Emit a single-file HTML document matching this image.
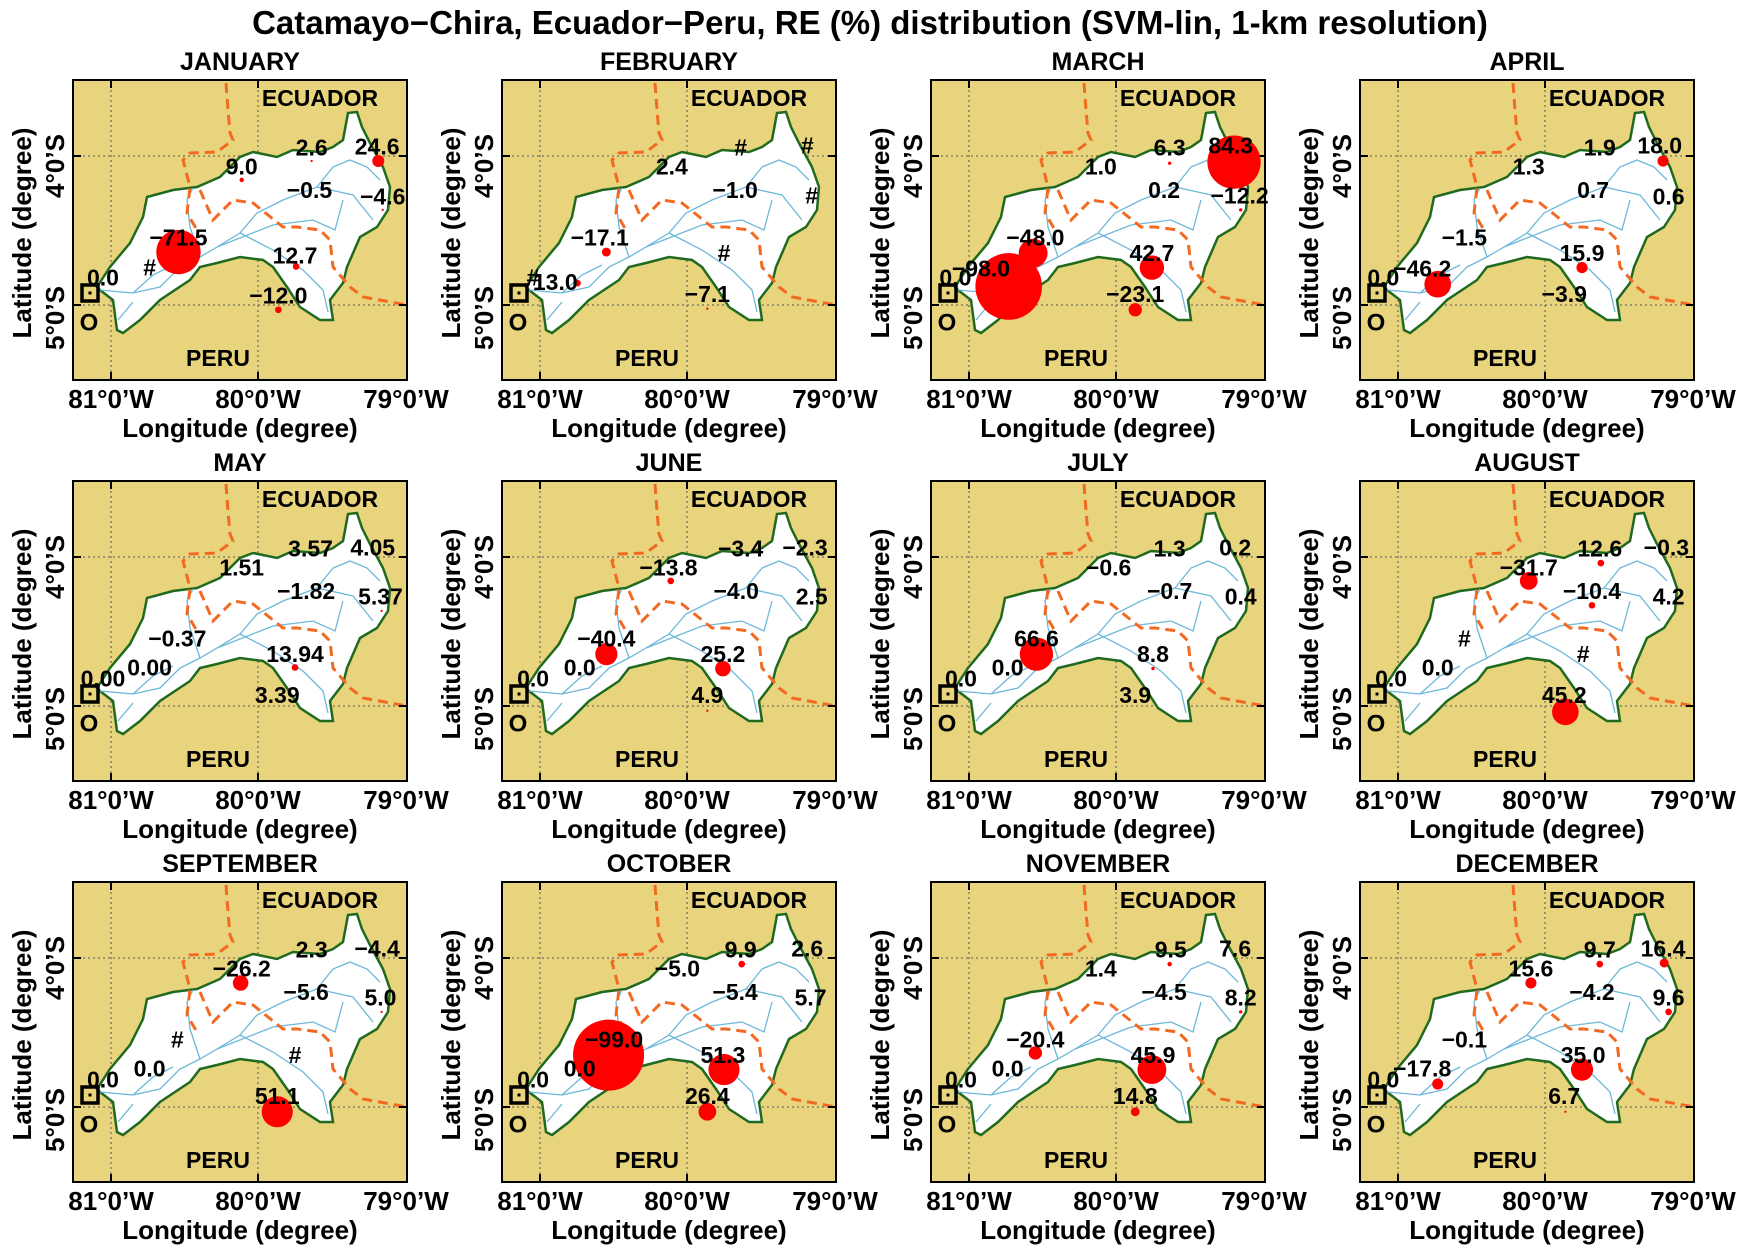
<!DOCTYPE html>
<html><head><meta charset="utf-8"><style>
body{margin:0;background:#fff;}
svg{display:block;font-family:"Liberation Sans",sans-serif;font-weight:bold;}
</style></head><body>
<svg id="s" width="1741" height="1250" xmlns="http://www.w3.org/2000/svg">
<text x="870" y="34" text-anchor="middle" font-size="33">Catamayo−Chira, Ecuador−Peru, RE (%) distribution (SVM-lin, 1-km resolution)</text>
</svg>
<script>
const S=1.11;
const basin=[[24,207],[37,187],[57,163],[70,137],[74,117],[100,110],[124,107],[147,97],[167,77],[180,72],[204,77],[220,70],[247,72],[260,67],[270,60],[275,33],[284,32],[289,47],[297,63],[310,87],[317,107],[315,130],[304,147],[287,157],[274,187],[270,203],[257,220],[260,240],[247,240],[227,227],[214,207],[200,187],[190,180],[167,177],[144,183],[127,187],[117,200],[87,220],[67,240],[50,253],[44,250],[40,220],[27,210]];
const rivers=[
[[27,210],[60,213],[87,207],[107,187],[127,177],[144,167],[167,153],[184,133],[210,120],[244,107],[260,87],[277,80],[294,87],[307,100]],
[[167,153],[200,170],[230,190],[250,210],[255,232]],
[[127,177],[117,147],[114,120],[120,108]],
[[144,167],[200,145],[240,140],[262,150],[270,120]],
[[60,213],[80,195],[100,185]],
[[244,107],[280,115],[300,140]],
[[45,240],[60,222]]];
const border1=[[153,3],[155,30],[157,53],[160,60],[144,72],[117,73],[110,80],[117,107],[114,133],[124,150]];
const border2=[[127,110],[140,140],[160,120],[180,123],[210,147],[224,147],[247,150],[257,160],[260,187],[277,207],[290,217],[334,225]];
const months=["JANUARY","FEBRUARY","MARCH","APRIL","MAY","JUNE","JULY","AUGUST","SEPTEMBER","OCTOBER","NOVEMBER","DECEMBER"];
const D=[
{L:[["−71.5",95,142],["24.6",274,60],["9.0",152,78],["2.6",215,61],["−0.5",213,99],["−4.6",279,105],["12.7",200,158],["−12.0",185,194],["0.0",27,178],["#",69,169]],
 C:[[95,155,20],[275,73,5.4],[152,90,2],[201,168,3],[185,207,3],[279,117,1],[215,73,1]]},
{L:[["#",215,61],["#",275,59],["2.4",153,78],["−1.0",210,99],["#",279,104],["−17.1",88,142],["#",200,156],["13.0",48,182],["#",28,178],["−7.1",185,193]],
 C:[[94,155,4],[68,183,3],[185,206,1]]},
{L:[["6.3",215,61],["84.3",270,59],["1.0",153,78],["0.2",210,99],["−12.2",278,104],["−48.0",94,142],["42.7",199,156],["0.0",22,178],["−98.0",45,170],["−23.1",184,193]],
 C:[[273,74,24],[279,117,1.5],[92,156,13],[199,169,11],[70,186,30],[184,207,6],[215,75,1.5]]},
{L:[["1.9",216,61],["18.0",270,59],["1.3",152,78],["0.7",210,99],["0.6",278,105],["−1.5",94,142],["15.9",200,156],["0.0",21,178],["−46.2",56,170],["−3.9",184,193]],
 C:[[273,73,5],[200,169,5],[70,184,12]]},
{L:[["3.57",214,61],["4.05",270,60],["1.51",152,78],["−1.82",210,99],["5.37",277,104],["−0.37",94,142],["13.94",200,156],["0.00",27,178],["0.00",69,168],["3.39",184,193]],
 C:[[278,117,1],[200,168,3]]},
{L:[["−3.4",215,61],["−2.3",273,60],["−13.8",150,78],["−4.0",211,99],["2.5",279,104],["−40.4",94,142],["25.2",199,156],["0.0",28,178],["0.0",70,168],["4.9",185,193]],
 C:[[152,90,3],[94,156,10],[199,169,7],[185,207,1]]},
{L:[["1.3",215,61],["0.2",274,60],["−0.6",160,78],["−0.7",215,99],["0.4",279,104],["66.6",95,142],["8.8",200,156],["0.0",27,178],["0.0",69,168],["3.9",184,193]],
 C:[[95,156,15],[200,169,1.5]]},
{L:[["12.6",216,61],["−0.3",276,60],["−31.7",152,78],["−10.4",209,99],["4.2",278,104],["#",94,142],["#",201,156],["0.0",28,178],["0.0",70,168],["45.2",184,193]],
 C:[[217,74,3],[152,90,8],[209,112,3],[185,208,12]]},
{L:[["2.3",215,61],["−4.4",274,60],["−26.2",152,78],["−5.6",210,99],["5.0",277,104],["#",94,142],["#",200,156],["0.0",27,178],["0.0",69,168],["51.1",184,193]],
 C:[[151,91,7],[184,207,14],[278,117,1]]},
{L:[["9.9",215,61],["2.6",275,60],["−5.0",158,78],["−5.4",210,99],["5.7",278,104],["−99.0",101,142],["51.3",199,156],["0.0",28,178],["0.0",70,168],["26.4",185,193]],
 C:[[216,74,3],[96,156,32],[200,169,14],[185,207,8]]},
{L:[["9.5",216,61],["7.6",274,60],["1.4",153,78],["−4.5",210,99],["8.2",279,104],["−20.4",94,142],["45.9",200,156],["0.0",27,178],["0.0",69,168],["14.8",184,193]],
 C:[[215,74,2],[279,117,1.5],[94,154,6],[199,169,13],[184,207,4]]},
{L:[["9.7",216,61],["16.4",273,60],["15.6",154,78],["−4.2",209,99],["9.6",278,104],["−0.1",94,142],["35.0",201,156],["−17.8",56,168],["0.0",21,178],["6.7",184,193]],
 C:[[216,74,3],[274,73,4],[154,91,5],[278,117,3],[200,169,10],[70,182,5],[185,207,1]]}
];
const pts=a=>a.map(p=>p[0]+","+p[1]).join(" ");
let h="";
const cx=[73,502,931,1360], cy=[80,481,882];
for(let i=0;i<12;i++){
 const X=cx[i%4],Y=cy[Math.floor(i/4)],d=D[i];
 h+=`<g transform="translate(${X},${Y})">`;
 h+=`<text x="167" y="-10" text-anchor="middle" font-size="25">${months[i]}</text>`;
 h+=`<rect x="0" y="0" width="334" height="300" fill="#e9d47e"/>`;
 h+=`<g stroke="#555" stroke-width="1" stroke-dasharray="2,3"><line x1="38" y1="0" x2="38" y2="300"/><line x1="185" y1="0" x2="185" y2="300"/><line x1="0" y1="76" x2="334" y2="76"/><line x1="0" y1="225" x2="334" y2="225"/></g>`;
 h+=`<polygon points="${pts(basin)}" fill="#fff" stroke="#1f6a1f" stroke-width="2.5"/>`;
 rivers.forEach(r=>h+=`<polyline points="${pts(r)}" fill="none" stroke="#6db8da" stroke-width="1.3"/>`);
 [border1,border2].forEach(r=>h+=`<polyline points="${pts(r)}" fill="none" stroke="#f26a21" stroke-width="3" stroke-dasharray="10,6"/>`);
 h+=`<g stroke="#000" stroke-width="2"><line x1="38" y1="0" x2="38" y2="8"/><line x1="185" y1="0" x2="185" y2="8"/><line x1="38" y1="292" x2="38" y2="300"/><line x1="185" y1="292" x2="185" y2="300"/><line x1="0" y1="76" x2="8" y2="76"/><line x1="0" y1="225" x2="8" y2="225"/><line x1="326" y1="76" x2="334" y2="76"/><line x1="326" y1="225" x2="334" y2="225"/></g>`;
 h+=`<text x="247" y="18" text-anchor="middle" dominant-baseline="central" font-size="23">ECUADOR</text>`;
 h+=`<text x="145" y="278" text-anchor="middle" dominant-baseline="central" font-size="23">PERU</text>`;
 h+=`<rect x="9" y="205" width="16" height="16" fill="none" stroke="#000" stroke-width="3.5"/><rect x="15.5" y="211.5" width="3" height="3" fill="#000"/>`;
 h+=`<text x="16" y="243" text-anchor="middle" dominant-baseline="central" font-size="24">O</text>`;
 d.C.forEach(c=>h+=`<circle cx="${c[0]*S}" cy="${c[1]*S}" r="${c[2]*S}" fill="#f00"/>`);
 d.L.forEach(l=>h+=`<text x="${l[1]*S}" y="${l[2]*S}" text-anchor="middle" dominant-baseline="central" font-size="23">${l[0]}</text>`);
 h+=`<rect x="0" y="0" width="334" height="300" fill="none" stroke="#000" stroke-width="2"/>`;
 h+=`<g font-size="26" text-anchor="middle"><text x="38" y="328">81°0’W</text><text x="185" y="328">80°0’W</text><text x="333" y="328">79°0’W</text><text x="167" y="357">Longitude (degree)</text></g>`;
 h+=`<g font-size="26" text-anchor="middle"><text transform="translate(-9,86) rotate(-90)">4°0’S</text><text transform="translate(-9,238) rotate(-90)">5°0’S</text><text transform="translate(-42,153) rotate(-90)">Latitude (degree)</text></g>`;
 h+=`</g>`;
}
document.getElementById("s").insertAdjacentHTML("beforeend",h);
</script>
</body></html>
